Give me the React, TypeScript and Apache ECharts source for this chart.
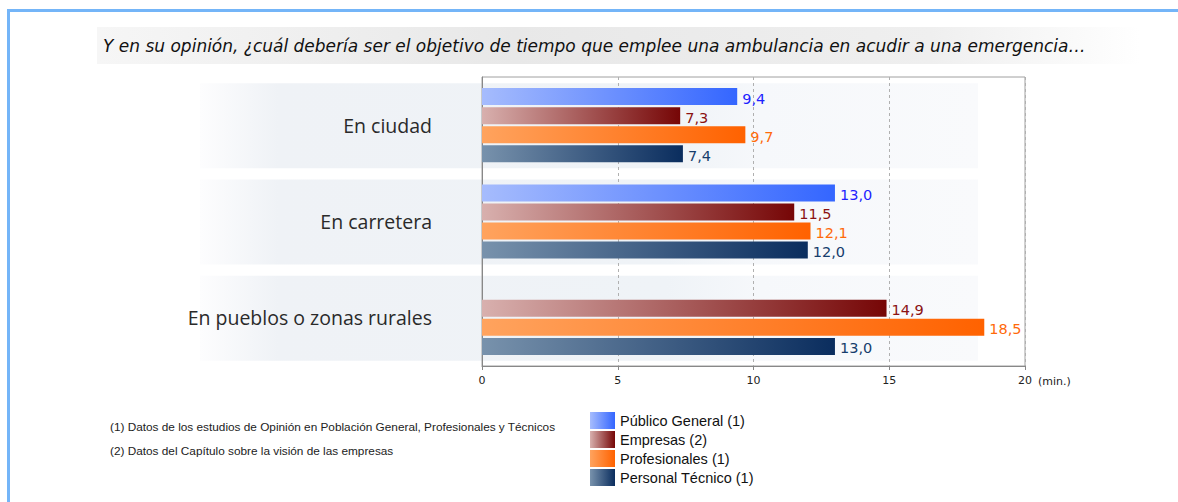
import React, { useEffect, useRef } from "react";
import * as echarts from "echarts";

const categories = ["En ciudad", "En carretera", "En pueblos o zonas rurales"];
const seriesNames = ["Público General (1)", "Empresas (2)", "Profesionales (1)", "Personal Técnico (1)"];
const publicoGeneral = [9.4, 13.0, null];
const empresas = [7.3, 11.5, 14.9];
const profesionales = [9.7, 12.1, 18.5];
const personalTecnico = [7.4, 12.0, 13.0];
const xTicks = [0, 5, 10, 15, 20];
const titleText =
  "Y en su opinión, ¿cuál debería ser el objetivo de tiempo que emplee una ambulancia en acudir a una emergencia…";
const footnotes = [
  "(1) Datos de los estudios de Opinión en Población General, Profesionales y Técnicos",
  "(2) Datos del Capítulo sobre la visión de las empresas",
];

const gradientStops: [string, string][] = [
  ["#a6bcfd", "#3466ff"],
  ["#d8b0ae", "#760606"],
  ["#ffa35e", "#ff6200"],
  ["#7892ac", "#0a2d5e"],
];
const labelColors = ["#1f1fff", "#8b1212", "#ff6a0a", "#163d6c"];
const seriesData = [publicoGeneral, empresas, profesionales, personalTecnico];

function grad(c: [string, string]) {
  return new echarts.graphic.LinearGradient(0, 0, 1, 0, [
    { offset: 0, color: c[0] },
    { offset: 1, color: c[1] },
  ]);
}

export default function App() {
  const ref = useRef<HTMLDivElement>(null);
  useEffect(() => {
    document.body.style.margin = "0";
    const chart = echarts.init(ref.current!, undefined, { renderer: "svg" });
    const series = seriesNames.map((name, i) => ({
      name,
      type: "bar",
      data: seriesData[i],
      barWidth: 17,
      barGap: "12%",
      itemStyle: { color: grad(gradientStops[i]) },
      label: {
        show: true,
        position: "right",
        distance: 5,
        offset: [0, 2],
        color: labelColors[i],
        fontSize: 14.5,
        fontFamily: "DejaVu Sans",
        formatter: (p: any) =>
          p.value == null ? "" : Number(p.value).toFixed(1).replace(".", ","),
      },
    }));
    chart.setOption({
      animation: false,
      title: {
        text: titleText,
        left: 103,
        top: 37,
        padding: 0,
        textStyle: {
          fontFamily: "DejaVu Sans",
          fontStyle: "italic",
          fontWeight: "normal",
          fontSize: 17,
          color: "#111",
        },
      },
      legend: {
        orient: "vertical",
        left: 590,
        top: 412,
        padding: 0,
        itemWidth: 25,
        itemHeight: 17,
        itemGap: 2,
        icon: "rect",
        textStyle: { fontFamily: "Liberation Sans", fontSize: 14.5, color: "#111" },
        data: seriesNames,
      },
      grid: {
        left: 482,
        width: 543,
        top: 77,
        height: 289,
        show: true,
        borderColor: "#a0a0a0",
        borderWidth: 1,
        backgroundColor: "transparent",
      },
      xAxis: {
        type: "value",
        min: xTicks[0],
        max: xTicks[xTicks.length - 1],
        interval: 5,
        name: "(min.)",
        nameLocation: "end",
        nameGap: 13,
        nameTextStyle: {
          fontFamily: "DejaVu Sans",
          fontSize: 11,
          color: "#222",
          verticalAlign: "top",
          padding: [10, 0, 0, 0],
        },
        axisLine: { show: true, lineStyle: { color: "#888" } },
        axisTick: { show: true, length: 4, lineStyle: { color: "#888" } },
        axisLabel: { fontFamily: "DejaVu Sans", fontSize: 11, color: "#222", margin: 9 },
        splitLine: { show: true, lineStyle: { color: "#b0b0b0", type: [3, 3] } },
      },
      yAxis: {
        type: "category",
        inverse: true,
        data: categories,
        axisLine: { show: true, lineStyle: { color: "#888" } },
        axisTick: { show: false },
        axisLabel: { fontFamily: "Open Sans", fontSize: 19.5, color: "#2a2a2a", margin: 50 },
      },
      series,
    });

    const bandGrad = () =>
      new echarts.graphic.LinearGradient(0, 0, 1, 0, [
        { offset: 0, color: "#fdfdfe" },
        { offset: 0.1, color: "#eff2f6" },
        { offset: 0.6, color: "#eff3f7" },
        { offset: 0.72, color: "#f6f8fb" },
        { offset: 1, color: "#f9fafc" },
      ]);
    const bands = categories.map((c) => {
      const cy = chart.convertToPixel({ yAxisIndex: 0 }, c) as number;
      return {
        type: "rect",
        z: -10,
        silent: true,
        shape: { x: 200, y: cy - 42, width: 778, height: 85 },
        style: { fill: bandGrad() },
      };
    });
    chart.setOption({
      graphic: [
        {
          type: "rect",
          z: -10,
          silent: true,
          shape: { x: 97, y: 27, width: 1043, height: 37 },
          style: {
            fill: new echarts.graphic.LinearGradient(0, 0, 1, 0, [
              { offset: 0, color: "#f6f6f6" },
              { offset: 0.4, color: "#e8e8e8" },
              { offset: 0.8, color: "#efefef" },
              { offset: 1, color: "#ffffff" },
            ]),
          },
        },
        ...bands,
        {
          type: "line",
          silent: true,
          shape: { x1: 7, y1: 10.5, x2: 1178, y2: 10.5 },
          style: { stroke: "#74b5f8", lineWidth: 3 },
        },
        {
          type: "line",
          silent: true,
          shape: { x1: 8.5, y1: 9, x2: 8.5, y2: 502 },
          style: { stroke: "#74b5f8", lineWidth: 3 },
        },
        ...footnotes.map((t, i) => ({
          type: "text",
          silent: true,
          x: 110,
          y: 426.5 + i * 24,
          style: {
            text: t,
            fill: "#222",
            font: "11.8px 'Liberation Sans'",
            verticalAlign: "middle",
          },
        })),
      ],
    });
    return () => chart.dispose();
  }, []);
  return <div ref={ref} style={{ width: 1178, height: 502 }} />;
}
